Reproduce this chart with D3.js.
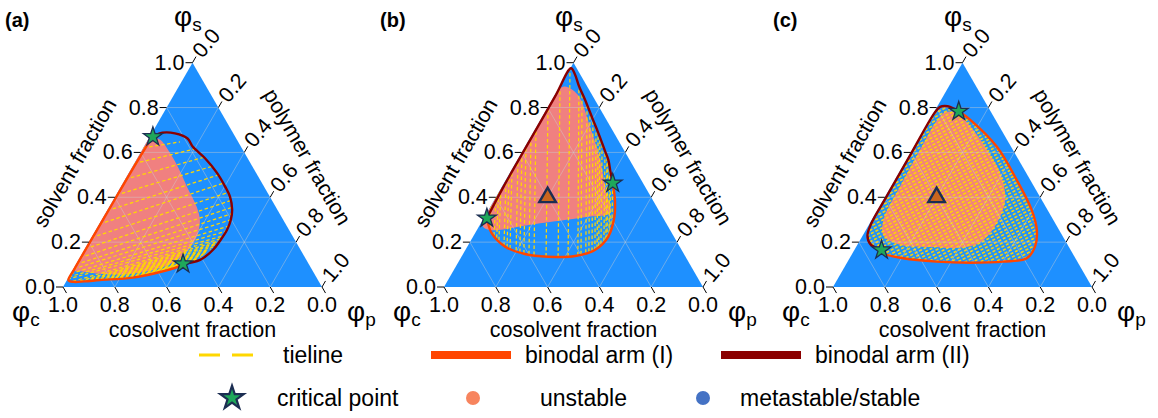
<!DOCTYPE html>
<html>
<head>
<meta charset="utf-8">
<script src="https://cdn.jsdelivr.net/npm/d3@7"></script>
<style>
  body { margin: 0; background: #fff; }
  svg { display: block; font-family: "Liberation Sans", Arial, sans-serif; }
</style>
</head>
<body>
<div id="chart"></div>
<script>
// ternary compositions are [phi_s, phi_p]  (phi_c = 1 - s - p)

const tickVals = [0, 0.2, 0.4, 0.6, 0.8, 1.0];
const tickLabels = ["0.0", "0.2", "0.4", "0.6", "0.8", "1.0"];
const gridVals = [0.2, 0.4, 0.6, 0.8];
const panelNames = ["(a)", "(b)", "(c)"];

// ---- panel (a)
const armIA = [[0.670,0.010],[0.52,0.006],[0.36,0.005],[0.20,0.004],[0.08,0.004],[0.030,0.006],
  [0.023,0.03],[0.025,0.07],[0.031,0.127],[0.042,0.249],[0.067,0.341],[0.089,0.396],[0.103,0.412]];
const armIIA = [[0.670,0.012],[0.688,0.04],[0.685,0.09],[0.662,0.15],[0.625,0.189],[0.575,0.26],
  [0.509,0.340],[0.45,0.40],[0.402,0.444],[0.344,0.481],[0.30,0.498],[0.254,0.506],[0.205,0.503],
  [0.165,0.496],[0.121,0.469],[0.103,0.412]];
const unstableA = [[0.665,0.0],[0.665,0.015],[0.656,0.047],[0.598,0.114],[0.52,0.19],[0.446,0.256],
  [0.357,0.338],[0.299,0.379],[0.25,0.398],[0.210,0.405],[0.129,0.387],[0.085,0.333],[0.058,0.22],
  [0.058,0.12],[0.07,0.03],[0.075,0.0]];
const tielinesA = [
  [0.62,0,0.647,0.128],[0.55,0,0.616,0.202],[0.48,0,0.577,0.251],[0.41,0,0.537,0.304],
  [0.34,0,0.499,0.349],[0.28,0,0.462,0.386],[0.22,0,0.421,0.426],[0.17,0,0.385,0.454],
  [0.13,0,0.354,0.473],[0.10,0,0.326,0.487],[0.08,0,0.299,0.497],[0.06,0,0.272,0.505],
  [0.045,0,0.25,0.508],[0.035,0,0.228,0.504],[0.025,0.025,0.216,0.503],[0.027,0.053,0.205,0.500],
  [0.028,0.07,0.196,0.497],[0.029,0.090,0.188,0.493],[0.030,0.108,0.179,0.49],[0.031,0.127,0.170,0.486],
  [0.033,0.145,0.163,0.482],[0.036,0.163,0.156,0.478],[0.038,0.18,0.149,0.474],[0.040,0.200,0.143,0.470],
  [0.041,0.218,0.136,0.465],[0.043,0.237,0.129,0.460],[0.047,0.255,0.125,0.455],[0.051,0.271,0.121,0.450],
  [0.055,0.288,0.117,0.444],[0.060,0.306,0.114,0.437],[0.064,0.323,0.111,0.430],[0.069,0.340,0.109,0.424]];
const criticalA = [[0.670,0.012],[0.103,0.412]];

// ---- panel (b)
const armIB = [[0.307,0.012],[0.240,0.064],[0.180,0.146],[0.147,0.239],[0.135,0.335],[0.138,0.437],
  [0.165,0.500],[0.225,0.522],[0.314,0.501],[0.388,0.466],[0.463,0.420]];
const armIIB = [[0.307,0.012],[0.45,0.006],[0.65,0.005],[0.85,0.004],[0.975,0.003],[0.95,0.03],
  [0.896,0.073],[0.835,0.127],[0.746,0.202],[0.686,0.253],[0.607,0.318],[0.567,0.351],[0.515,0.385],
  [0.463,0.420]];
const unstableB = [[0.894,0.020],[0.857,0.088],[0.714,0.207],[0.567,0.319],[0.433,0.408],[0.330,0.476],
  [0.314,0.407],[0.284,0.229],[0.254,0.051],[0.27,0.015],[0.30,0.004],[0.6,0.004],[0.88,0.004]];
const tielinesB = [
  [0.29,0.025,0.344,0],[0.263,0.046,0.363,0],[0.230,0.078,0.402,0],[0.219,0.094,0.421,0],
  [0.208,0.108,0.440,0],[0.183,0.140,0.479,0],[0.177,0.155,0.502,0],[0.172,0.169,0.525,0],
  [0.163,0.197,0.571,0],[0.156,0.215,0.602,0],[0.149,0.234,0.633,0],[0.146,0.255,0.672,0],
  [0.143,0.276,0.710,0],[0.136,0.326,0.803,0],[0.135,0.373,0.896,0],[0.136,0.411,0.973,0],
  [0.142,0.446,0.896,0.073],[0.146,0.456,0.866,0.100],[0.153,0.471,0.8125,0.146],[0.157,0.481,0.779,0.174],
  [0.161,0.491,0.746,0.202],[0.165,0.500,0.712,0.231],[0.174,0.504,0.690,0.250],[0.183,0.506,0.666,0.269],
  [0.192,0.510,0.643,0.289],[0.205,0.515,0.607,0.318],[0.214,0.518,0.583,0.338],[0.219,0.520,0.571,0.347],
  [0.237,0.519,0.536,0.371],[0.25,0.516,0.515,0.385],[0.281,0.508,0.469,0.417]];
const criticalB = [[0.307,0.012],[0.463,0.420]];

// ---- panel (c)
const armIC = [[0.783,0.094],[0.746,0.156],[0.626,0.319],[0.478,0.470],[0.344,0.595],[0.254,0.660],
  [0.180,0.690],[0.128,0.684],[0.113,0.601],[0.108,0.475],[0.113,0.343],[0.128,0.208],[0.150,0.120],
  [0.165,0.105]];
const armIIC = [[0.165,0.105],[0.19,0.05],[0.23,0.018],[0.284,0.006],[0.403,0.005],[0.597,0.004],
  [0.775,0.004],[0.803,0.012],[0.806,0.04],[0.795,0.07],[0.783,0.094]];
const unstableC = [[0.78,0.045],[0.775,0.09],[0.71,0.18],[0.62,0.28],[0.51,0.39],[0.39,0.47],[0.29,0.49],
  [0.20,0.47],[0.175,0.40],[0.178,0.30],[0.19,0.16],[0.23,0.08],[0.30,0.045],[0.45,0.035],[0.62,0.03],
  [0.74,0.03]];
const criticalC = [[0.783,0.094],[0.165,0.105]];

const overallComp = [0.4, 0.2];   // triangle marker in (b) and (c)

const legendRow1 = ["tieline", "binodal arm (I)", "binodal arm (II)"];
const legendRow2 = ["critical point", "unstable", "metastable/stable"];

// ---------------------------------------------------------------
const W = 1158, H = 418;
const side = 259, triH = 224.3, baseY = 287;
const panelX = [63, 444, 833];
const letterX = [5, 380, 773];

const col = {
  blue: "#1E90FF", salmon: "#F08080", tie: "#FFD700", armI: "#FF4500", armII: "#8B0000",
  star: "#1FA85A", edge: "#1C2E52", marker: "#C9661E"
};

const svg = d3.select("#chart").append("svg")
  .attr("width", W).attr("height", H);

const defs = svg.append("defs");
const pat = defs.append("pattern")
  .attr("id", "hatch")
  .attr("patternUnits", "userSpaceOnUse")
  .attr("width", 5).attr("height", 3.4)
  .attr("patternTransform", "rotate(-27)");
pat.append("rect").attr("x", 0).attr("y", 1).attr("width", 3.2).attr("height", 1.6).attr("fill", col.tie);

const panels = [
  { armI: armIA, armII: armIIA, unstable: unstableA, ties: tielinesA, crit: criticalA, marker: null, hatch: false },
  { armI: armIB, armII: armIIB, unstable: unstableB, ties: tielinesB, crit: criticalB, marker: overallComp, hatch: false },
  { armI: armIC, armII: armIIC, unstable: unstableC, ties: [], crit: criticalC, marker: overallComp, hatch: true }
];

panels.forEach((pd, i) => {
  const x0 = panelX[i];
  const xS = d3.scaleLinear().domain([0, 1]).range([x0, x0 + side]);
  const yS = d3.scaleLinear().domain([0, 1]).range([baseY, baseY - triH]);
  const P = d => [xS(d[1] + d[0] / 2), yS(d[0])];

  const g = svg.append("g");
  const corners = [[0, 0], [0, 1], [1, 0]].map(P);

  defs.append("clipPath").attr("id", "tri" + i)
    .append("polygon").attr("points", corners.map(c => c.join(",")).join(" "));

  g.append("polygon")
    .attr("points", corners.map(c => c.join(",")).join(" "))
    .attr("fill", col.blue);

  const inner = g.append("g").attr("clip-path", `url(#tri${i})`);

  const smooth = d3.line().x(d => P(d)[0]).y(d => P(d)[1]).curve(d3.curveCatmullRom.alpha(0.5));
  const closed = d3.line().x(d => P(d)[0]).y(d => P(d)[1]).curve(d3.curveCatmullRomClosed.alpha(0.5));

  // unstable region
  inner.append("path").attr("d", closed(pd.unstable)).attr("fill", col.salmon);

  // dense tielines in (c) drawn as hatch inside the binodal
  if (pd.hatch) {
    const loop = pd.armI.concat(pd.armII.slice(1, -1));
    inner.append("path").attr("d", closed(loop)).attr("fill", "url(#hatch)");
  }

  // grid
  const grid = [];
  gridVals.forEach(v => {
    grid.push([[v, 0], [v, 1 - v]]);
    grid.push([[0, v], [1 - v, v]]);
    grid.push([[0, 1 - v], [1 - v, 0]]);
  });
  inner.selectAll("line.grid").data(grid).join("line")
    .attr("x1", d => P(d[0])[0]).attr("y1", d => P(d[0])[1])
    .attr("x2", d => P(d[1])[0]).attr("y2", d => P(d[1])[1])
    .attr("stroke", "#cfcfcf").attr("stroke-opacity", 0.55).attr("stroke-width", 0.8);

  // tielines
  inner.selectAll("line.tie").data(pd.ties).join("line")
    .attr("x1", d => P([d[0], d[1]])[0]).attr("y1", d => P([d[0], d[1]])[1])
    .attr("x2", d => P([d[2], d[3]])[0]).attr("y2", d => P([d[2], d[3]])[1])
    .attr("stroke", col.tie).attr("stroke-width", 1.25).attr("stroke-dasharray", "3.5,2.5");

  // binodal arms
  g.append("path").attr("d", smooth(pd.armI)).attr("fill", "none")
    .attr("stroke", col.armI).attr("stroke-width", 2.4);
  g.append("path").attr("d", smooth(pd.armII)).attr("fill", "none")
    .attr("stroke", col.armII).attr("stroke-width", 2.4);

  // markers
  if (pd.marker) {
    g.append("path").attr("d", d3.symbol(d3.symbolTriangle, 120)())
      .attr("transform", `translate(${P(pd.marker)})`)
      .attr("fill", col.marker).attr("stroke", col.edge).attr("stroke-width", 2.4);
  }
  g.selectAll("path.star").data(pd.crit).join("path")
    .attr("d", d3.symbol(d3.symbolStar, 110)())
    .attr("transform", d => `translate(${P(d)})`)
    .attr("fill", col.star).attr("stroke", col.edge).attr("stroke-width", 1.3);

  // ticks: left (solvent), bottom (cosolvent), right (polymer)
  const tl = 7;
  const ax = g.append("g").attr("font-size", 21.5).attr("fill", "#000");
  tickVals.forEach((t, k) => {
    // solvent
    let e = P([t, 0]);
    ax.append("line").attr("x1", e[0]).attr("y1", e[1]).attr("x2", e[0] - tl).attr("y2", e[1])
      .attr("stroke", "#000").attr("stroke-width", 1);
    ax.append("text").attr("x", e[0] - tl - 1).attr("y", e[1]).attr("text-anchor", "end")
      .attr("dominant-baseline", "central").text(tickLabels[k]);
    // cosolvent
    e = P([0, 1 - t]);
    ax.append("line").attr("x1", e[0]).attr("y1", e[1]).attr("x2", e[0] + tl * 0.5).attr("y2", e[1] + tl * 0.866)
      .attr("stroke", "#000").attr("stroke-width", 1);
    ax.append("text").attr("x", e[0]).attr("y", e[1] + 25).attr("text-anchor", "middle").text(tickLabels[k]);
    // polymer
    e = P([1 - t, t]);
    ax.append("line").attr("x1", e[0]).attr("y1", e[1]).attr("x2", e[0] + tl * 0.5).attr("y2", e[1] - tl * 0.866)
      .attr("stroke", "#000").attr("stroke-width", 1);
    ax.append("text").attr("text-anchor", "middle").attr("dominant-baseline", "central")
      .attr("transform", `translate(${e[0] + 14},${e[1] - 19.5}) rotate(-50)`).text(tickLabels[k]);
  });

  ax.append("text").attr("text-anchor", "middle").attr("dominant-baseline", "central")
    .attr("transform", `translate(${x0 + 12},${baseY - 124}) rotate(-60)`).text("solvent fraction");
  ax.append("text").attr("text-anchor", "middle").attr("dominant-baseline", "central")
    .attr("transform", `translate(${x0 + 244},${baseY - 130}) rotate(60)`).text("polymer fraction");
  ax.append("text").attr("text-anchor", "middle").attr("x", x0 + side / 2).attr("y", 337).text("cosolvent fraction");

  // corner labels
  const phi = (x, y, sub) => {
    const t = g.append("text").attr("x", x).attr("y", y).attr("font-size", 28);
    t.append("tspan").text("φ");
    t.append("tspan").attr("font-size", 19).attr("dy", 5).text(sub);
  };
  phi(x0 + 111, 26, "s");
  phi(x0 - 51, 321, "c");
  phi(x0 + 284, 321, "p");

  g.append("text").attr("x", letterX[i]).attr("y", 27).attr("font-size", 20)
    .attr("font-weight", "bold").text(panelNames[i]);
});

// legend
const lg = svg.append("g").attr("font-size", 23);
const r1y = 355, r2y = 398;
lg.append("line").attr("x1", 199).attr("x2", 255).attr("y1", r1y).attr("y2", r1y)
  .attr("stroke", col.tie).attr("stroke-width", 3).attr("stroke-dasharray", "21,12");
lg.append("rect").attr("x", 431).attr("y", r1y - 4).attr("width", 80).attr("height", 8).attr("fill", col.armI);
lg.append("rect").attr("x", 721).attr("y", r1y - 4).attr("width", 80).attr("height", 8).attr("fill", col.armII);
[283, 525, 815].forEach((x, k) => {
  lg.append("text").attr("x", x).attr("y", r1y).attr("dominant-baseline", "central").text(legendRow1[k]);
});
lg.append("path").attr("d", d3.symbol(d3.symbolStar, 170)())
  .attr("transform", `translate(232,${r2y})`)
  .attr("fill", col.star).attr("stroke", col.edge).attr("stroke-width", 2.2);
lg.append("circle").attr("cx", 473).attr("cy", r2y).attr("r", 7).attr("fill", "#F7845E");
lg.append("circle").attr("cx", 703).attr("cy", r2y).attr("r", 7).attr("fill", "#4472C4");
[277, 540, 740].forEach((x, k) => {
  lg.append("text").attr("x", x).attr("y", r2y).attr("dominant-baseline", "central").text(legendRow2[k]);
});
</script>
</body>
</html>
